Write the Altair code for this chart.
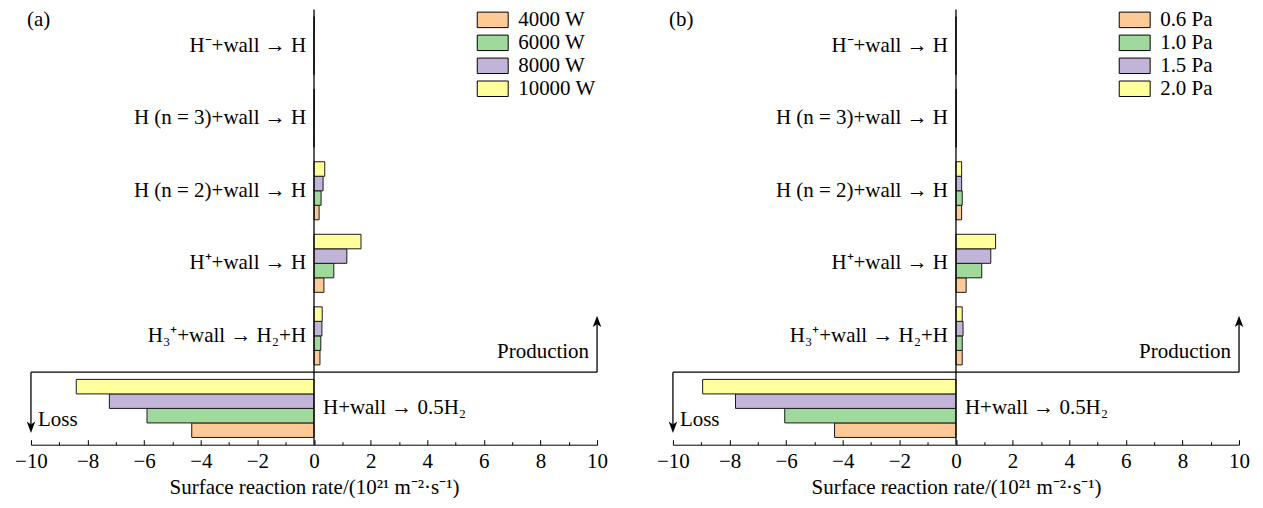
import altair as alt
import pandas as pd

# ---------------- data ----------------
categories = [
    "H⁻+wall → H",
    "H (n = 3)+wall → H",
    "H (n = 2)+wall → H",
    "H⁺+wall → H",
    "H₃⁺+wall → H₂+H",
    "H+wall → 0.5H₂",
]

powers = ["4000 W", "6000 W", "8000 W", "10000 W"]
rate_4000w = [0.0, 0.0, 0.18, 0.35, 0.21, -4.32]
rate_6000w = [0.0, 0.0, 0.25, 0.70, 0.24, -5.90]
rate_8000w = [0.0, 0.01, 0.32, 1.16, 0.28, -7.23]
rate_10000w = [0.01, 0.01, 0.38, 1.66, 0.29, -8.40]

pressures = ["0.6 Pa", "1.0 Pa", "1.5 Pa", "2.0 Pa"]
rate_06pa = [0.0, 0.01, 0.20, 0.36, 0.22, -4.29]
rate_10pa = [0.0, 0.01, 0.22, 0.91, 0.22, -6.05]
rate_15pa = [0.0, 0.01, 0.20, 1.23, 0.25, -7.79]
rate_20pa = [0.0, 0.01, 0.20, 1.40, 0.22, -8.95]

tick_major = [-10, -8, -6, -4, -2, 0, 2, 4, 6, 8, 10]
tick_minor = [-9, -7, -5, -3, -1, 1, 3, 5, 7, 9]
x_domain = [-10, 10]
x_title = "Surface reaction rate/(10²¹ m⁻²·s⁻¹)"

# ---------------- style ----------------
FONT = "Liberation Serif"
FS = 21
COLORS = ["#FDC997", "#A0D99C", "#C2B3D8", "#FFFF9E"]
W, H = 567, 436
INK = "black"


def panel(tag, series, values):
    rows = []
    for s, vals in zip(series, values):
        for c, v in zip(categories, vals):
            rows.append({"cat": c, "series": s, "rate": v})
    df = pd.DataFrame(rows)

    xscale = alt.Scale(domain=x_domain, nice=False)
    yscale = alt.Scale(domain=categories, paddingInner=0, paddingOuter=0)

    bars = alt.Chart(df).mark_bar(stroke="#1a1a1a", strokeWidth=1).encode(
        x=alt.X(
            "rate:Q",
            scale=xscale,
            axis=alt.Axis(
                orient="bottom", values=tick_major, ticks=False, grid=False,
                labelFlush=False, domainColor=INK, domainWidth=1,
                labelFont=FONT, labelFontSize=FS, labelColor=INK, labelPadding=6,
                title=x_title, titleFont=FONT, titleFontSize=FS,
                titleFontWeight="normal", titleColor=INK, titlePadding=5,
            ),
        ),
        y=alt.Y("cat:N", scale=yscale, axis=None),
        yOffset=alt.YOffset(
            "series:N",
            scale=alt.Scale(domain=series[::-1], paddingInner=0, paddingOuter=0.5),
        ),
        fill=alt.Fill(
            "series:N",
            scale=alt.Scale(domain=series, range=COLORS),
            legend=alt.Legend(
                orient="none", legendX=452, legendY=0, title=None,
                labelFont=FONT, labelFontSize=FS, labelColor=INK, labelOffset=15,
                symbolType="M-2,-1H2V1H-2Z", symbolSize=240,
                symbolStrokeColor=INK, symbolStrokeWidth=1, symbolOpacity=1,
                rowPadding=1,
            ),
        ),
    )

    ann = pd.DataFrame({
        "cat": [categories[-1]],
        "cat_up": [categories[-2]],
        "cat_top": [categories[0]],
        "xl": [x_domain[0]],
        "xr": [x_domain[1]],
        "zero": [0],
    })
    a = alt.Chart(ann)

    zero_rule = a.mark_rule(color=INK, strokeWidth=1.3).encode(
        x=alt.X(
            "zero:Q", scale=xscale,
            axis=alt.Axis(orient="top", offset=-H, values=tick_major, labels=False,
                          domain=False, grid=False, title=None, ticks=True,
                          tickSize=5, tickColor=INK, tickWidth=1),
        ),
    )

    hline = a.mark_rule(color=INK, strokeWidth=1.3).encode(
        x=alt.X(
            "xl:Q", scale=xscale,
            axis=alt.Axis(orient="top", offset=-H, values=tick_minor, labels=False,
                          domain=False, grid=False, title=None, ticks=True,
                          tickSize=3, tickColor=INK, tickWidth=1),
        ),
        x2="xr:Q",
        y=alt.Y("cat:N", scale=yscale, axis=None, bandPosition=0),
    )

    down_line = a.mark_rule(color=INK, strokeWidth=1.3).encode(
        x=alt.X("xl:Q", scale=xscale, axis=None),
        y=alt.Y("cat:N", scale=yscale, axis=None, bandPosition=0),
        y2=alt.Y2(field="cat", bandPosition=0.72),
    )
    up_line = a.mark_rule(color=INK, strokeWidth=1.3).encode(
        x=alt.X("xr:Q", scale=xscale, axis=None),
        y=alt.Y("cat:N", scale=yscale, axis=None, bandPosition=0),
        y2=alt.Y2(field="cat_up", bandPosition=0.34),
    )
    down_head = a.mark_point(
        shape="M0,1L0.6,-0.6L0,-0.2L-0.6,-0.6Z", filled=True, color=INK,
        opacity=1, size=200,
    ).encode(
        x=alt.X("xl:Q", scale=xscale, axis=None),
        y=alt.Y("cat:N", scale=yscale, axis=None, bandPosition=0.74),
    )
    up_head = a.mark_point(
        shape="M0,-1L0.6,0.6L0,0.2L-0.6,0.6Z", filled=True, color=INK,
        opacity=1, size=200,
    ).encode(
        x=alt.X("xr:Q", scale=xscale, axis=None),
        y=alt.Y("cat_up:N", scale=yscale, axis=None, bandPosition=0.32),
    )

    txt = dict(font=FONT, fontSize=FS, color=INK, baseline="middle")
    prod = a.mark_text(align="right", dx=-8, text="Production", **txt).encode(
        x=alt.X("xr:Q", scale=xscale, axis=None),
        y=alt.Y("cat_up:N", scale=yscale, axis=None, bandPosition=0.72),
    )
    loss = a.mark_text(align="left", dx=7, text="Loss", **txt).encode(
        x=alt.X("xl:Q", scale=xscale, axis=None),
        y=alt.Y("cat:N", scale=yscale, axis=None, bandPosition=0.66),
    )
    tag_t = a.mark_text(align="left", dx=-4, text=tag, **txt).encode(
        x=alt.X("xl:Q", scale=xscale, axis=None),
        y=alt.Y("cat_top:N", scale=yscale, axis=None, bandPosition=0.14),
    )

    lab_df = pd.DataFrame({"cat": categories, "zero": [0] * len(categories)})
    left_labels = alt.Chart(lab_df.iloc[:-1]).mark_text(align="right", dx=-8, **txt).encode(
        x=alt.X("zero:Q", scale=xscale, axis=None),
        y=alt.Y("cat:N", scale=yscale, axis=None),
        text="cat:N",
    )
    right_labels = alt.Chart(lab_df.iloc[-1:]).mark_text(align="left", dx=9, **txt).encode(
        x=alt.X("zero:Q", scale=xscale, axis=None),
        y=alt.Y("cat:N", scale=yscale, axis=None),
        text="cat:N",
    )

    return alt.layer(
        bars, zero_rule, hline, down_line, up_line, down_head, up_head,
        prod, loss, tag_t, left_labels, right_labels,
    ).resolve_axis(x="independent").properties(width=W, height=H)


pa = panel("(a)", powers, [rate_4000w, rate_6000w, rate_8000w, rate_10000w])
pb = panel("(b)", pressures, [rate_06pa, rate_10pa, rate_15pa, rate_20pa])

chart = (
    alt.hconcat(pa, pb, spacing=48)
    .resolve_scale(color="independent", fill="independent", yOffset="independent")
    .resolve_legend(fill="independent")
    .properties(padding={"left": 6, "top": 0, "right": 5, "bottom": 0})
    .configure(font=FONT)
    .configure_view(stroke=None, strokeWidth=0)
)

chart.save("out.html", embed_options={"renderer": "svg", "actions": False})
